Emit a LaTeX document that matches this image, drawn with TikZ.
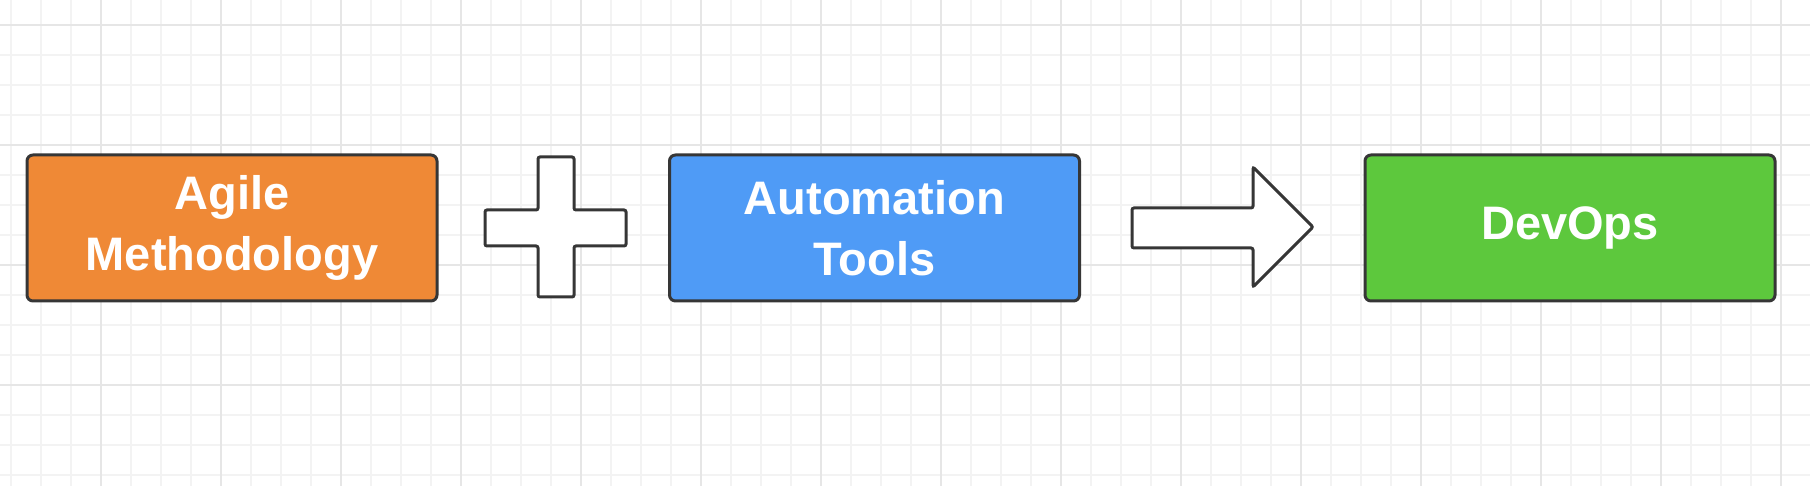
\documentclass[tikz,border=0pt]{standalone}
\usepackage{fontspec}
\setmainfont{Liberation Sans}
\definecolor{agile}{HTML}{EF8936}
\definecolor{autom}{HTML}{4F9BF6}
\definecolor{devops}{HTML}{5DC83D}
\definecolor{edge}{HTML}{363636}
\definecolor{minorgrid}{HTML}{F3F3F3}
\definecolor{majorgrid}{HTML}{E6E6E6}
\begin{document}
\begin{tikzpicture}[x=0.5pt, y=-0.5pt,
        block/.style={draw=edge, line width=1.5pt, rounded corners=3pt, minimum width=205pt, minimum height=73pt, text=white, align=center, font=\bfseries\fontsize{23.5}{30.5}\selectfont},
        sym/.style={draw=edge, line width=1.5pt, fill=white, rounded corners=1pt}]
    \useasboundingbox[fill=white] (0,0) rectangle (1810,486);
    \foreach \gx in {11,41,...,1801} \draw[minorgrid, line width=1pt] (\gx,0) -- (\gx,486);
    \foreach \gy in {25,55,...,475} \draw[minorgrid, line width=1pt] (0,\gy) -- (1810,\gy);
    \foreach \gx in {101,221,...,1781} \draw[majorgrid, line width=1pt] (\gx,0) -- (\gx,486);
    \foreach \gy in {25,145,...,385} \draw[majorgrid, line width=1pt] (0,\gy) -- (1810,\gy);
    \node[block, fill=agile] at (232,228) (agile) {Agile\\Methodology};
    \node[block, fill=autom] at (874.5,228) (tools) {Automation\\Tools};
    \node[block, fill=devops] at (1570,228) (devops) {DevOps};
    \draw[sym] (485,210) -- (538,210) -- (538,157) -- (574,157) -- (574,210) -- (626,210) -- (626,246) -- (574,246) -- (574,297) -- (538,297) -- (538,246) -- (485,246) -- cycle;
    \draw[sym] (1132,208) -- (1253,208) -- (1253,167) -- (1313,227) -- (1253,287) -- (1253,248) -- (1132,248) -- cycle;
\end{tikzpicture}
\end{document}
